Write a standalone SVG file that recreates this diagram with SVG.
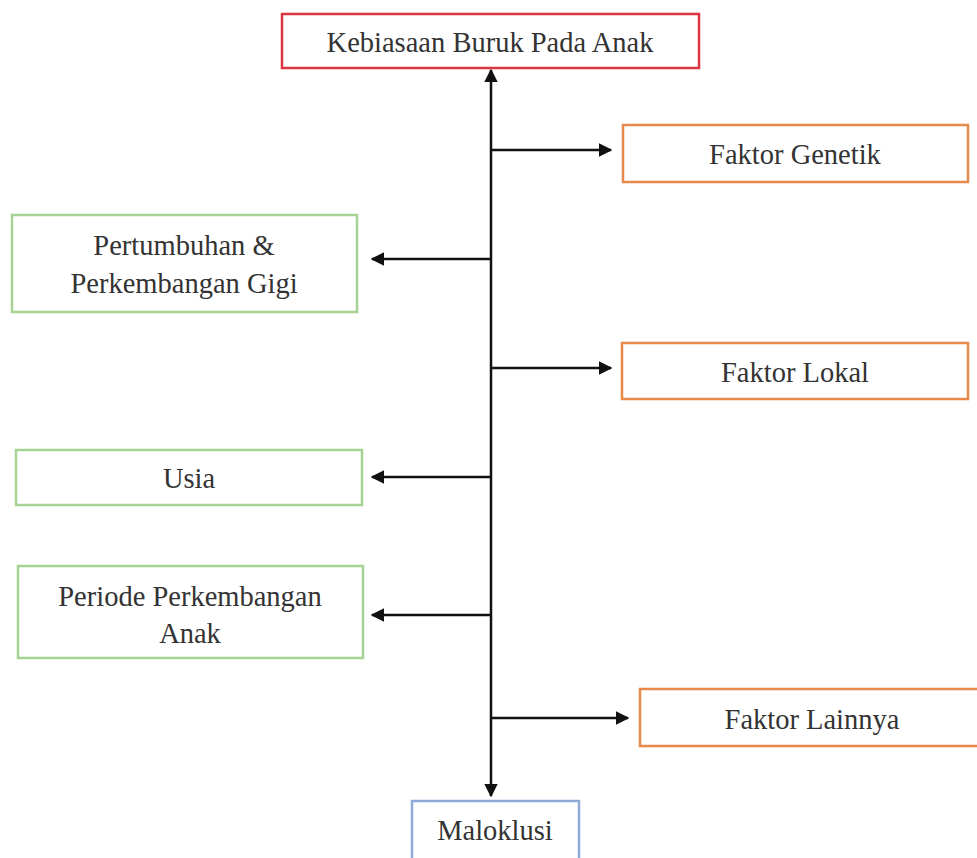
<svg xmlns="http://www.w3.org/2000/svg" width="977" height="858" viewBox="0 0 977 858">
<style>
.box{fill:#fff;stroke-width:2.5}
.red{stroke:#dc3540}
.org{stroke:#e8894c}
.grn{stroke:#a6d394}
.blu{stroke:#8fa9d6}
text{font-family:'Liberation Serif','Times New Roman',serif;font-size:28.5px;fill:#333;text-anchor:middle}
.ln{stroke:#111;stroke-width:2.5;fill:none}
</style>
<defs>
<marker id="ah" viewBox="0 0 10 10" refX="9" refY="5" markerWidth="5.5" markerHeight="5.5" markerUnits="strokeWidth" orient="auto">
<path d="M0,0 L10,5 L0,10 z" fill="#111"/>
</marker>
</defs>
<rect width="977" height="858" fill="#fff"/>
<g id="connectors">
<line class="ln" x1="491" y1="430" x2="491" y2="70" marker-end="url(#ah)"/>
<line class="ln" x1="491" y1="430" x2="491" y2="796" marker-end="url(#ah)"/>
<line class="ln" x1="491" y1="150" x2="611" y2="150" marker-end="url(#ah)"/>
<line class="ln" x1="491" y1="259" x2="372" y2="259" marker-end="url(#ah)"/>
<line class="ln" x1="491" y1="368" x2="611" y2="368" marker-end="url(#ah)"/>
<line class="ln" x1="491" y1="477" x2="372" y2="477" marker-end="url(#ah)"/>
<line class="ln" x1="491" y1="615" x2="372" y2="615" marker-end="url(#ah)"/>
<line class="ln" x1="491" y1="718" x2="628" y2="718" marker-end="url(#ah)"/>
</g>
<g id="kebiasaan">
<rect class="box red" x="282" y="14" width="417" height="54"/>
<text x="490" y="52">Kebiasaan Buruk Pada Anak</text>
</g>
<g id="genetik">
<rect class="box org" x="623" y="125" width="345" height="57"/>
<text x="795" y="164">Faktor Genetik</text>
</g>
<g id="pertumbuhan">
<rect class="box grn" x="12" y="215" width="345" height="97"/>
<text x="184" y="255">Pertumbuhan &amp;</text>
<text x="184" y="293">Perkembangan Gigi</text>
</g>
<g id="lokal">
<rect class="box org" x="622" y="343" width="346" height="56"/>
<text x="795" y="382">Faktor Lokal</text>
</g>
<g id="usia">
<rect class="box grn" x="16" y="450" width="346" height="55"/>
<text x="189" y="488">Usia</text>
</g>
<g id="periode">
<rect class="box grn" x="18" y="566" width="345" height="92"/>
<text x="190" y="606">Periode Perkembangan</text>
<text x="190" y="643">Anak</text>
</g>
<g id="lainnya">
<rect class="box org" x="640" y="689" width="345" height="57"/>
<text x="812" y="729">Faktor Lainnya</text>
</g>
<g id="maloklusi">
<rect class="box blu" x="412" y="801" width="167" height="70"/>
<text x="495" y="840">Maloklusi</text>
</g>
</svg>
